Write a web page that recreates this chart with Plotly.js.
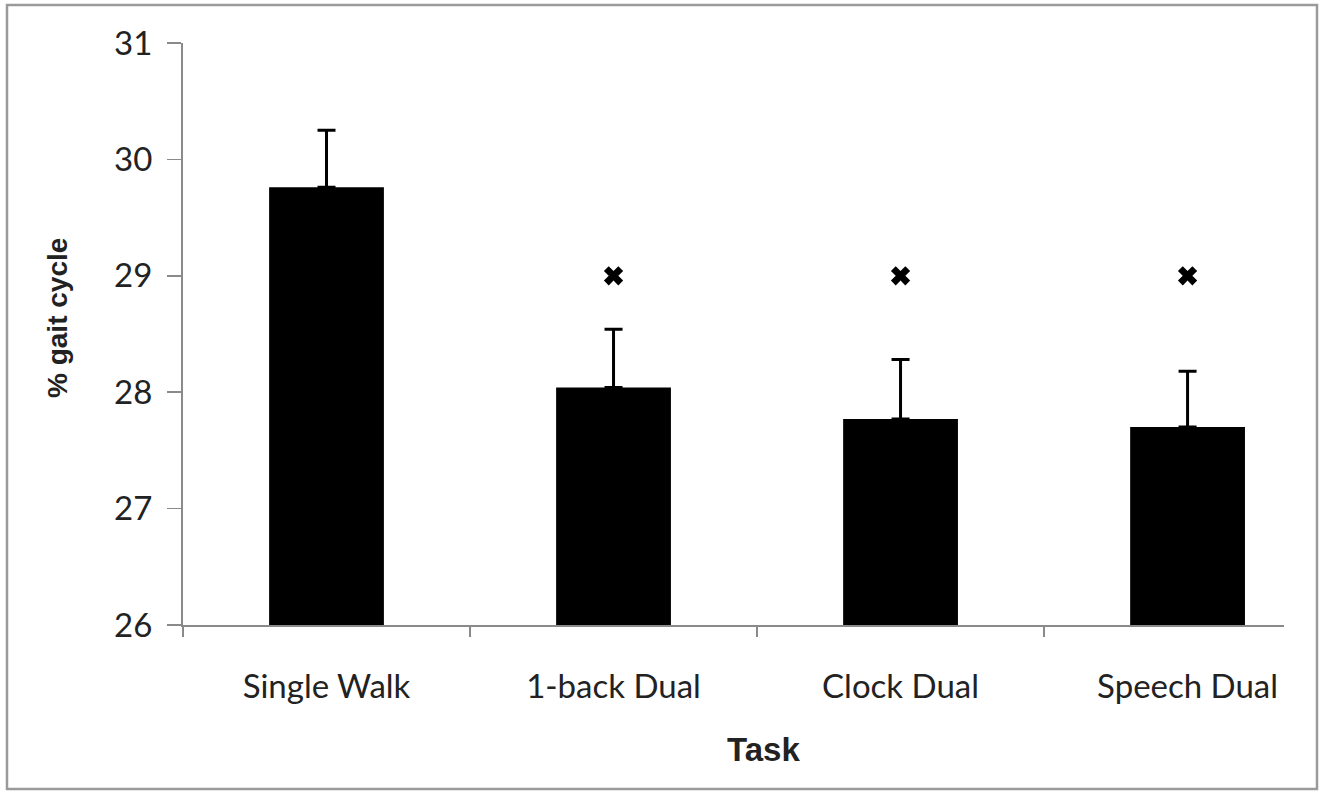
<!DOCTYPE html>
<html>
<head>
<meta charset="utf-8">
<script src="https://cdn.plot.ly/plotly-3.0.1.min.js"></script>
<style>
html,body{margin:0;padding:0;background:#fff;}
#chart{width:1325px;height:793px;}
</style>
</head>
<body>
<div id="chart"></div>
<script>
const categories = ["Single Walk", "1-back Dual", "Clock Dual", "Speech Dual"];
const meanValues = [29.76, 28.04, 27.77, 27.70];
const errorPlus = [0.49, 0.50, 0.51, 0.48];
const sigCategories = ["1-back Dual", "Clock Dual", "Speech Dual"];
const sigLevel = [29, 29, 29];
const yTicks = [26, 27, 28, 29, 30, 31];
const xTitle = "Task";
const yTitle = "% gait cycle";

const bars = {
  type: "bar",
  x: categories,
  y: meanValues,
  width: 0.4,
  marker: {color: "#000000"},
  error_y: {type: "data", array: errorPlus, symmetric: false, arrayminus: [0,0,0,0],
            color: "#000000", thickness: 3, width: 9},
  hoverinfo: "none"
};
const stars = {
  type: "scatter",
  mode: "markers",
  x: sigCategories,
  y: sigLevel,
  marker: {symbol: "x", size: 17, color: "#000000", line: {width: 0}},
  hoverinfo: "none"
};

const plotW = 1325 - 183 - 41, plotH = 793 - 43 - 168;
const layout = {
  width: 1325, height: 793,
  margin: {l: 183, r: 41, t: 43, b: 168},
  paper_bgcolor: "#ffffff",
  plot_bgcolor: "#ffffff",
  showlegend: false,
  font: {family: "Lato, 'Open Sans', sans-serif", color: "#222222"},
  xaxis: {
    type: "category",
    range: [-0.5, 3.336],
    showline: true, linecolor: "#8a8a8a", linewidth: 2,
    ticks: "outside", tickson: "boundaries", ticklen: 10, tickcolor: "#8a8a8a", tickwidth: 1.5,
    tickfont: {size: 33, color: "#222222", family: "Lato, 'Open Sans', sans-serif"},
    ticklabelstandoff: 31,
    showgrid: false, zeroline: false
  },
  yaxis: {
    range: [26, 31],
    tickvals: yTicks,
    showline: true, linecolor: "#8a8a8a", linewidth: 2,
    ticks: "outside", ticklen: 14, tickcolor: "#8a8a8a", tickwidth: 1.5,
    tickfont: {size: 33, color: "#222222", family: "Lato, 'Open Sans', sans-serif"},
    ticklabelstandoff: 8,
    showgrid: false, zeroline: false
  },
  annotations: [
    {text: "<b>" + xTitle + "</b>", xref: "paper", yref: "paper",
     x: (763-183)/plotW, y: (625-749)/plotH, xanchor: "center", yanchor: "middle", showarrow: false,
     font: {size: 33, family: "'Liberation Sans', Arial, sans-serif", color: "#222222"}},
    {text: "<b>" + yTitle + "</b>", xref: "paper", yref: "paper", textangle: -90,
     x: (57-183)/plotW, y: (625-318)/plotH, xanchor: "center", yanchor: "middle", showarrow: false,
     font: {size: 28, family: "'Liberation Sans', Arial, sans-serif", color: "#222222"}}
  ],
  shapes: [{
    type: "rect", xref: "paper", yref: "paper",
    x0: (7-183)/plotW, x1: (1317-183)/plotW,
    y0: (625-789)/plotH, y1: (625-5)/plotH,
    line: {color: "#9a9a9a", width: 2.5}, fillcolor: "rgba(0,0,0,0)"
  }]
};

Plotly.newPlot("chart", [bars, stars], layout, {displayModeBar: false, staticPlot: true});
</script>
</body>
</html>
